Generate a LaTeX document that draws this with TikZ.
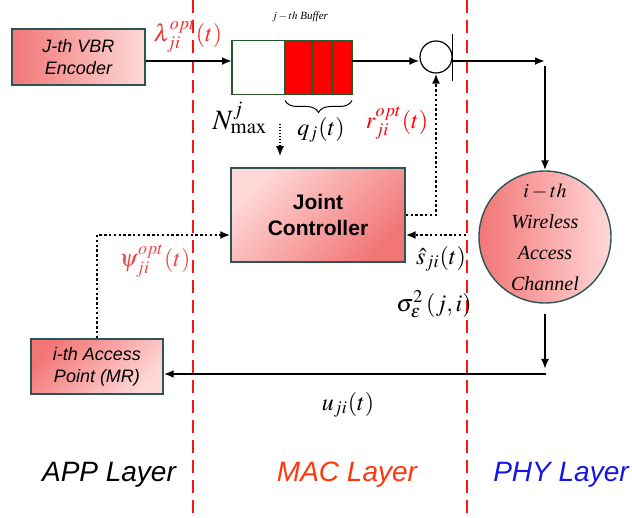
\documentclass[tikz,border=0pt]{standalone}
\usepackage{mathptmx}
\usepackage{fontspec}
\setmainfont{Liberation Serif}
\setsansfont{Liberation Sans}
\usetikzlibrary{positioning,arrows.meta,decorations.pathreplacing}

\definecolor{boxdark}{RGB}{242,118,118}
\definecolor{boxlight}{RGB}{255,216,216}
\definecolor{boxedge}{RGB}{45,85,85}
\definecolor{bufedge}{RGB}{40,90,40}
\definecolor{layerred}{RGB}{250,20,20}
\definecolor{lamred}{RGB}{245,45,45}
\definecolor{psired}{RGB}{240,70,70}
\definecolor{macred}{RGB}{255,55,10}
\definecolor{phyblue}{RGB}{20,20,235}

\tikzset{
  unitbox/.style={draw=boxedge, line width=0.7pt, align=center, inner sep=0pt,
    font=\sffamily\itshape\fontsize{9}{11}\selectfont},
  bufcell/.style={draw=bufedge, line width=0.6pt, minimum height=27pt, inner sep=0pt, outer sep=0pt},
  flow/.style={->, line width=1pt},
  sig/.style={->, line width=1.2pt, dash pattern=on 1.2pt off 1.2pt},
  layerline/.style={layerred, line width=1.2pt, dash pattern=on 6.5pt off 3.5pt},
  lbl/.style={font=\fontsize{12}{14}\selectfont, inner sep=0pt},
  layername/.style={font=\sffamily\itshape\fontsize{14}{17}\selectfont, inner sep=0pt}
}

\begin{document}
\begin{tikzpicture}[x=0.5pt, y=-0.5pt, >={Latex[length=5pt,width=4pt]}]
  \useasboundingbox (0,0) rectangle (632,518);

  % ==================== LAYER BORDERS ====================
  \draw[layerline] (193,0) -- (193,518);
  \draw[layerline] (467,0) -- (467,518);

  % ==================== BLOCKS ====================
  \node[unitbox, minimum width=66.5pt, minimum height=28pt,
        left color=boxdark, right color=boxlight] (enc) at (78.5,57) {J-th VBR\\Encoder};
  \node[unitbox, minimum width=66pt, minimum height=27.5pt,
        top color=boxdark, bottom color=boxlight, shading angle=45] (ap) at (97,366.5) {i-th Access\\Point (MR)};
  \node[unitbox, font=\sffamily\bfseries\fontsize{10.5}{13}\selectfont, minimum width=87pt, minimum height=47pt,
        top color=boxlight, bottom color=boxdark, shading angle=45] (ctrl) at (318,215) {Joint\\Controller};
  \node[circle, draw=boxedge, line width=0.7pt, minimum size=66pt, inner sep=0pt, align=center,
        left color=boxdark, right color=boxlight, font=\itshape\fontsize{10}{15.5}\selectfont] (chan) at (545,237)
        {$i-th$\\Wireless\\Access\\Channel};

  % 缓冲区 (空格 + 队列)
  \node[bufcell, minimum width=26.5pt, fill=white] (bufe) at (258.5,67.5) {};
  \node[bufcell, minimum width=33.5pt, fill=red, right=0pt of bufe] (bufq) {};
  \foreach \d in {13.5,23.5}
    \draw[bufedge, line width=0.6pt] ([xshift=\d pt]bufq.north west) -- ([xshift=\d pt]bufq.south west);
  \node[font=\itshape\fontsize{5.5}{7}\selectfont] (buftitle) at (300,17) {$j-th$ Buffer};

  % 服务器
  \node[circle, draw, line width=0.6pt, minimum size=16pt, inner sep=0pt] (srv) at (436,57) {};
  \draw[line width=0.6pt] ([yshift=11.5pt]srv.east) -- ([yshift=-12pt]srv.east);

  % ==================== DATA PATH ====================
  \coordinate (mainrow) at (0,61);
  \coordinate (turn) at (545,61);
  \coordinate (back) at (545,369);
  \coordinate (backrow) at (546,374);
  \draw[flow] (enc.east |- mainrow) -- (bufe.west |- mainrow);
  \draw[flow] (bufq.east |- mainrow) -- (srv.west |- mainrow);
  \draw[flow] (srv.east |- mainrow) -- (turn);
  \draw[flow] ([yshift=-2.5pt]turn) -- (chan.north);
  \draw[flow] ([yshift=-5pt]chan.south) -- (back);
  \draw[flow] (backrow) -- (ap.east |- backrow);

  % ==================== CONTROL PATH (dotted) ====================
  \coordinate (psirow) at (0,235);
  \coordinate (shat) at (466,235);
  \coordinate (ntop) at (280,124);
  \coordinate (nbot) at (280,156);
  \draw[sig] (ap.north) |- (ctrl.west |- psirow);
  \draw[sig] (ctrl.east) -| (srv.south);
  \draw[sig] (shat) -- (ctrl.east |- shat);
  \draw[sig, line width=0.6pt, dash pattern=on 0.7pt off 0.8pt] (ntop) -- (nbot);

  % 队列长度括号
  \draw[decorate, decoration={brace, mirror, amplitude=6pt, raise=3pt}, line width=0.5pt]
    (bufq.south west) -- (bufq.south east);

  % ==================== LABELS ====================
  \node[lbl, text=lamred] (lam) at (188,36) {$\lambda_{ji}^{opt}(t)$};
  \node[lbl, font=\fontsize{14}{16}\selectfont] (nmax) at (240,118) {$N_{\max}^{j}$};
  \node[lbl] (qj) at (321,130) {$q_j(t)$};
  \node[lbl, text=red] (rji) at (397,123) {$r_{ji}^{opt}(t)$};
  \node[lbl, text=psired] (psi) at (155,261) {$\psi_{ji}^{opt}(t)$};
  \node[lbl] (sji) at (441,259) {$\hat{s}_{ji}(t)$};
  \node[lbl] (noise) at (434,304) {$\sigma_{\varepsilon}^{2}\left(j,i\right)$};
  \node[lbl] (uji) at (348,405) {$u_{ji}(t)$};

  % 层名
  \node[layername] (app) at (109,475) {APP Layer};
  \node[layername, text=macred] (mac) at (347,475) {MAC Layer};
  \node[layername, text=phyblue] (phy) at (561,475) {PHY Layer};
\end{tikzpicture}
\end{document}
